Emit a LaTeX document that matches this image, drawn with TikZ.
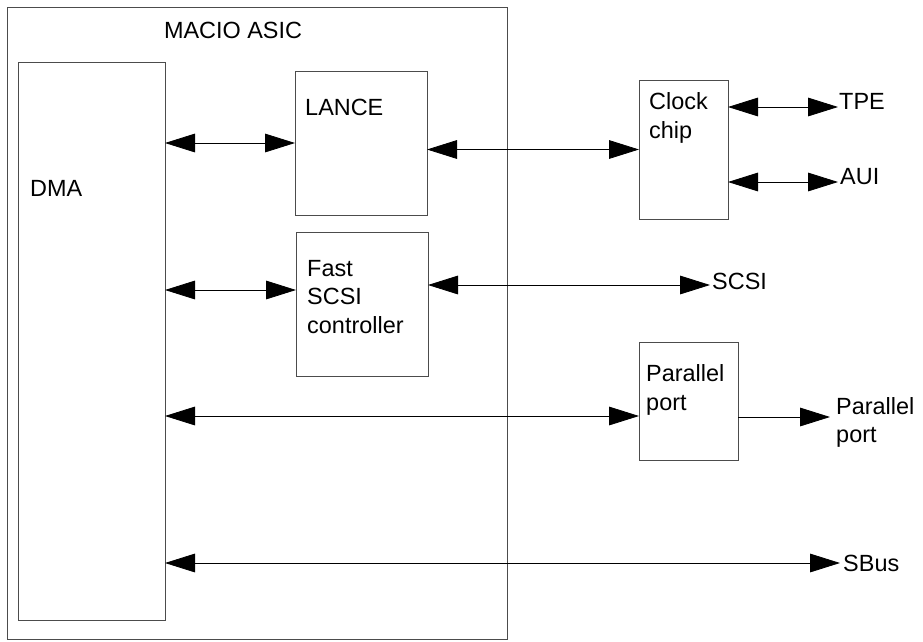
\documentclass[tikz,border=0pt]{standalone}
\usepackage{fontspec}
\setmainfont{Liberation Sans}
\usetikzlibrary{arrows.meta, positioning}

\begin{document}
\begin{tikzpicture}[
    x=0.03cm, y=-0.03cm,
    box/.style={
        rectangle,
        draw=black!70,
        line width=0.7pt,
        anchor=north west,
        inner sep=0pt,
        outer sep=0pt
    },
    txt/.style={
        inner sep=0pt,
        align=left,
        font=\fontsize{20}{24.5}\selectfont
    },
    arrow/.style={-{Triangle[length=0.9cm, width=0.56cm]}, line width=0.7pt},
    biarrow/.style={{Triangle[length=0.9cm, width=0.56cm]}-{Triangle[length=0.9cm, width=0.56cm]}, line width=0.7pt}
]

\useasboundingbox (0,0) rectangle (923,641);

% blocks
\node[box, minimum width=15cm, minimum height=18.96cm] (macio) at (7,7) {};
\node[box, minimum width=4.41cm, minimum height=16.74cm] (dma) at (18,62) {};
\node[box, minimum width=3.96cm, minimum height=4.32cm] (lance) at (295,71) {};
\node[box, minimum width=3.96cm, minimum height=4.32cm] (scsi) at (296,232) {};
\node[box, minimum width=2.67cm, minimum height=4.17cm] (clock) at (639,80) {};
\node[box, minimum width=2.97cm, minimum height=3.54cm] (parallel) at (639,342) {};

% block texts (base = last line)
\node[txt, anchor=base] (macioText) at (233,38.5) {MACIO ASIC};
\node[txt, anchor=base west] (dmaText) at (30,196.5) {DMA};
\node[txt, anchor=base west] (lanceText) at (305,115.5) {LANCE};
\node[txt, anchor=base west] (clockText) at (649,138.5) {Clock\\chip};
\node[txt, anchor=base west] (scsiText) at (307,333.5) {Fast\\SCSI\\controller};
\node[txt, anchor=base west] (parallelText) at (646,410) {Parallel\\port};

% outside ends
\coordinate (tpeEnd) at (838,107);
\coordinate (auiEnd) at (838,182);
\coordinate (scsiEnd) at (710,285);
\coordinate (parEnd) at (830,417);
\coordinate (sbusEnd) at (840,563);

\node[txt, right=0.03cm of tpeEnd, yshift=0.165cm] (tpe) {TPE};
\node[txt, right=0.06cm of auiEnd, yshift=0.165cm] (aui) {AUI};
\node[txt, right=0.06cm of scsiEnd, yshift=0.1cm] (scsiOut) {SCSI};
\node[txt, right=0.18cm of parEnd, yshift=-0.165cm] (parOut) {Parallel\\port};
\node[txt, right=0.09cm of sbusEnd] (sbus) {SBus};

\coordinate (scsiIn) at ([yshift=0.42cm]scsi.west);
\coordinate (parIn) at ([yshift=-0.45cm]parallel.west);

\draw[biarrow] (dma.east |- lance.west) -- (lance.west);
\draw[biarrow] (lance.east |- clock.west) -- (clock.west);
\draw[biarrow] (clock.east |- tpeEnd) -- (tpeEnd);
\draw[biarrow] (clock.east |- auiEnd) -- (auiEnd);
\draw[biarrow] (dma.east |- scsiIn) -- (scsiIn);
\draw[biarrow] (scsi.east |- scsiEnd) -- (scsiEnd);
\draw[biarrow] (dma.east |- parIn) -- (parIn);
\draw[arrow] (parallel.east |- parEnd) -- (parEnd);
\draw[biarrow] (dma.east |- sbusEnd) -- (sbusEnd);

\end{tikzpicture}
\end{document}
